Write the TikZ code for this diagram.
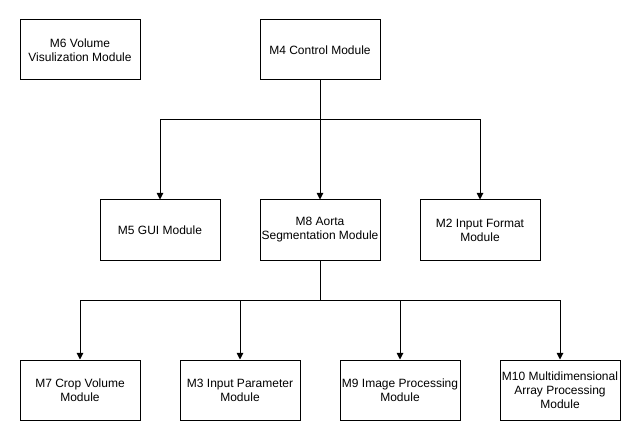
\documentclass[tikz,border=0pt]{standalone}
\usepackage{fontspec}
\setmainfont{Liberation Sans}
\usetikzlibrary{arrows.meta}
\begin{document}
\begin{tikzpicture}[x=0.75pt,y=-0.75pt,
  modbox/.style={draw=black,line width=0.75pt,fill=white,minimum width=90pt,minimum height=45pt,
    align=center,font=\fontsize{9pt}{10.5pt}\selectfont,inner sep=0pt},
  conn/.style={line width=0.75pt,-{Triangle[width=5pt,length=5pt]}}]
\useasboundingbox (0,0) rectangle (641,441);
\fill[white] (0,0) rectangle (641,441);
\node[modbox] (m6) at (80,50) {M6 Volume\\Visulization Module};
\node[modbox] (m4) at (320,50) {M4 Control Module};
\node[modbox] (m5) at (160,230) {M5 GUI Module};
\node[modbox] (m8) at (320,230) {M8 Aorta\\Segmentation Module};
\node[modbox] (m2) at (480,230) {M2 Input Format\\Module};
\node[modbox] (m7) at (80,390) {M7 Crop Volume\\Module};
\node[modbox] (m3) at (240,390) {M3 Input Parameter\\Module};
\node[modbox] (m9) at (400,390) {M9 Image Processing\\Module};
\node[modbox] (m10) at (560,390) {M10 Multidimensional\\Array Processing\\Module};
\coordinate (j1) at (320,120);
\coordinate (j2) at (320,300);
\draw[line width=0.75pt] (m4.south) -- (j1);
\draw[conn] (j1) -| (m5.north);
\draw[conn] (j1) -- (m8.north);
\draw[conn] (j1) -| (m2.north);
\draw[line width=0.75pt] (m8.south) -- (j2);
\draw[conn] (j2) -| (m7.north);
\draw[conn] (j2) -| (m3.north);
\draw[conn] (j2) -| (m9.north);
\draw[conn] (j2) -| (m10.north);
\end{tikzpicture}
\end{document}
